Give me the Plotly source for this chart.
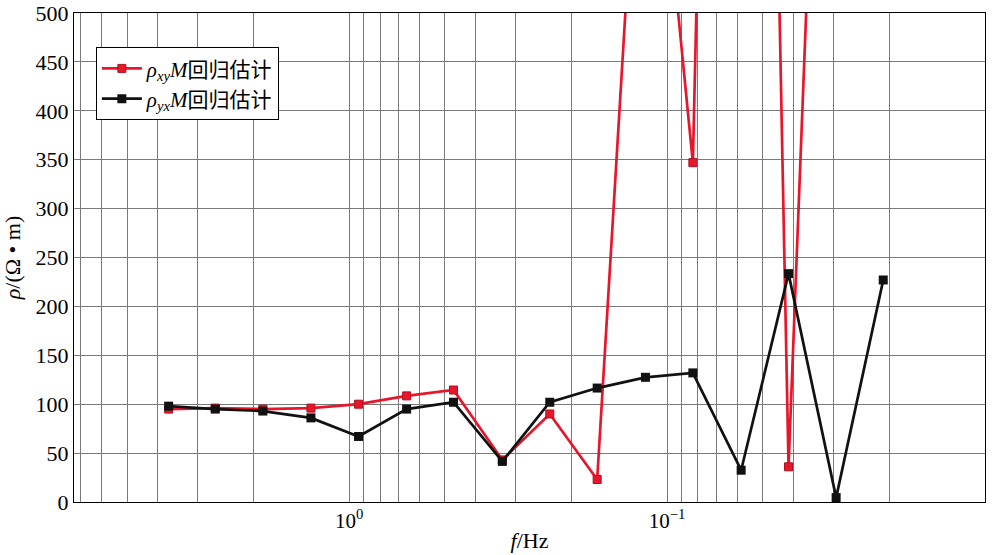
import plotly.graph_objects as go

# frequencies (Hz)
freq = [3.7, 2.64, 1.87, 1.32, 0.935, 0.66, 0.47, 0.33, 0.234, 0.166,
        0.117, 0.083, 0.0585, 0.0415, 0.0294, 0.0209]

# apparent resistivity, ohm*m (points above 500 run off the top of the chart)
rho_xy = [95, 96, 95, 96, 100, 108.5, 114.5, 43, 90, 23,
          840, 347, 2480, 36, 1290]
rho_yx = [98, 95, 93, 86, 67, 95, 102, 41.5, 102, 116.5,
          127.5, 132, 32.5, 233.5, 4.5, 227]

names = ["<i>ρ</i><sub><i>xy</i></sub><i>M</i>回归估计",
         "<i>ρ</i><sub><i>yx</i></sub><i>M</i>回归估计"]

# log grid: every 1..9 multiple, labels only at decades
tick_vals = []
tick_text = []
for e in [-2, -1, 0]:
    for m in range(1, 10):
        if e == 0 and m > 7:
            break
        tick_vals.append(m * 10 ** e)
        if m == 1:
            tick_text.append("10<sup>%s</sup>" % ("0" if e == 0 else "−%d" % -e))
        else:
            tick_text.append("")

font_main = "Liberation Serif, Times New Roman, Noto Sans CJK SC, serif"

fig = go.Figure()
fig.add_trace(go.Scatter(
    x=freq[:len(rho_xy)], y=rho_xy, name=names[0],
    mode="lines+markers",
    line=dict(color="#e8162b", width=2.7),
    marker=dict(symbol="square", size=8, color="#e8162b",
                line=dict(color="#b0101f", width=1)),
))
fig.add_trace(go.Scatter(
    x=freq, y=rho_yx, name=names[1],
    mode="lines+markers",
    line=dict(color="#111111", width=2.7),
    marker=dict(symbol="square", size=9, color="#111111"),
))

fig.update_layout(
    width=1000, height=555,
    margin=dict(l=74, r=15, t=13, b=53),
    plot_bgcolor="white", paper_bgcolor="white",
    font=dict(family=font_main, size=22, color="black"),
    legend=dict(
        x=0.024, y=0.93, xanchor="left", yanchor="top",
        bgcolor="white", bordercolor="black", borderwidth=1,
        font=dict(size=21), tracegroupgap=0, itemwidth=40,
    ),
    xaxis=dict(
        type="log", range=[0.866, -2],
        tickvals=tick_vals, ticktext=tick_text,
        showgrid=True, gridcolor="#7a7a7a", gridwidth=1,
        showline=True, linecolor="black", linewidth=1, mirror=True,
        ticks="", zeroline=False, automargin=False,
        tickfont=dict(size=21),
        title=dict(text="<i>f</i>/Hz", standoff=0, font=dict(size=22)),
    ),
    yaxis=dict(
        range=[0, 500], dtick=50,
        showgrid=True, gridcolor="#7a7a7a", gridwidth=1,
        showline=True, linecolor="black", linewidth=1, mirror=True,
        ticks="", zeroline=False, automargin=False,
        tickfont=dict(size=22),
        title=dict(text="<i>ρ</i>/(Ω • m)", standoff=8, font=dict(size=22)),
    ),
)

# drop the page's default 8px body margin so the figure sits at the window corner
fig.write_html("out.html", config={"displayModeBar": False},
               post_script="document.body.style.margin='0';")
